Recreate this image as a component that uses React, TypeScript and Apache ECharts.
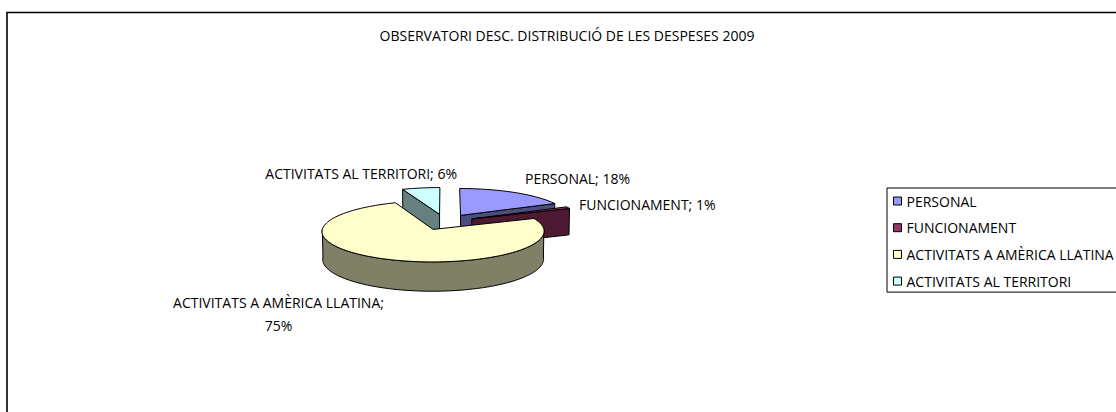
import React, { useEffect, useRef } from 'react';
import * as echarts from 'echarts';

// ---- data ----
const TITLE = 'OBSERVATORI DESC. DISTRIBUCIÓ DE LES DESPESES 2009';
const CATEGORIES = ['PERSONAL', 'FUNCIONAMENT', 'ACTIVITATS A AMÈRICA LLATINA', 'ACTIVITATS AL TERRITORI'];
const VALUES = [18, 1, 75, 6];

// ---- styles / layout ----
const COLORS = ['#9999FF', '#993366', '#FFFFCC', '#CCFFFF'];
const SIDE_COLORS = ['#4D4D80', '#4D1933', '#808066', '#668080'];
const FONT_FAMILY = '"Open Sans", sans-serif';
const FONT_SIZE = 14;

const CX = 445;
const CY = 222;
const RADIUS = 109;
const SIN_T = 0.27;
const COS_T = Math.sqrt(1 - SIN_T * SIN_T);
const PERSP = 15;
const DEPTH = 0.26;
const EXPLODE = 0.27;

const LABEL_LAYOUT: { x: number; y: number; align: string; vAlign: string; wrap?: boolean }[] = [
  { x: 525, y: 178, align: 'left', vAlign: 'middle' },
  { x: 579, y: 204, align: 'left', vAlign: 'middle' },
  { x: 278.5, y: 290.5, align: 'center', vAlign: 'top', wrap: true },
  { x: 457, y: 173, align: 'right', vAlign: 'middle' },
];

const TOTAL = VALUES.reduce((a, b) => a + b, 0);
const STARTS = VALUES.map((_, i) => (VALUES.slice(0, i).reduce((a, b) => a + b, 0) / TOTAL) * 360);
const rad = (d: number) => (d * Math.PI) / 180;

function proj(X: number, Z: number, Y: number): number[] {
  const depth = Z * COS_T + Y * SIN_T;
  const k = PERSP / (PERSP - depth);
  return [CX + RADIUS * X * k, CY + RADIUS * (Z * SIN_T - Y * COS_T) * k];
}

function sliceOffset(i: number, v: number) {
  const a0 = STARTS[i];
  const a1 = a0 + (v / TOTAL) * 360;
  const mid = rad((a0 + a1) / 2);
  return { a0, a1, ox: EXPLODE * Math.sin(mid), oz: -EXPLODE * Math.cos(mid) };
}

function makeRender(i: number) {
  return (params: any, api: any) => {
    const v = api.value(0);
    const { a0, a1, ox, oz } = sliceOffset(i, v);
    const P = (deg: number, Y: number) => proj(ox + Math.sin(rad(deg)), oz - Math.cos(rad(deg)), Y);
    const apexT = proj(ox, oz, 0);
    const apexB = proj(ox, oz, -DEPTH);
    const arc = (a: number, b: number, Y: number) => {
      const n = Math.max(2, Math.ceil(Math.abs(b - a) / 2));
      const pts: number[][] = [];
      for (let j = 0; j <= n; j++) pts.push(P(a + ((b - a) * j) / n, Y));
      return pts;
    };
    const poly = (points: number[][], fill: string) => ({
      type: 'polygon',
      shape: { points },
      style: { fill, stroke: '#000', lineWidth: 1, lineJoin: 'round' },
    });
    const children: any[] = [];
    if (Math.sin(rad(a0)) < -1e-6) children.push(poly([apexT, P(a0, 0), P(a0, -DEPTH), apexB], SIDE_COLORS[i]));
    if (Math.sin(rad(a1)) > 1e-6) children.push(poly([apexT, P(a1, 0), P(a1, -DEPTH), apexB], SIDE_COLORS[i]));
    const w0 = Math.max(a0, 90);
    const w1 = Math.min(a1, 270);
    if (w1 > w0) children.push(poly([...arc(w0, w1, 0), ...arc(w1, w0, -DEPTH)], SIDE_COLORS[i]));
    children.push(poly([apexT, ...arc(a0, a1, 0)], COLORS[i]));

    const L = LABEL_LAYOUT[i];
    const pct = Math.round((v / TOTAL) * 100);
    const text = L.wrap ? `${CATEGORIES[i]};\n${pct}%` : `${CATEGORIES[i]}; ${pct}%`;
    children.push({
      type: 'text',
      x: L.x,
      y: L.y,
      style: {
        text,
        fill: '#000',
        fontFamily: FONT_FAMILY,
        fontSize: FONT_SIZE,
        lineHeight: 23,
        align: L.align,
        textAlign: L.align,
        verticalAlign: L.vAlign,
        textVerticalAlign: L.vAlign,
      },
    });
    return { type: 'group', children };
  };
}

// paint order: back slices first
const DEPTHS = VALUES.map((v, i) => sliceOffset(i, v).oz);
const RANK = DEPTHS.map((d) => DEPTHS.filter((o) => o < d).length);

export default function App() {
  const ref = useRef<HTMLDivElement>(null);
  useEffect(() => {
    document.body.style.margin = '0';
    const chart = echarts.init(ref.current!, null, { renderer: 'svg', width: 1116, height: 412 });
    chart.setOption({
      animation: false,
      backgroundColor: '#ffffff',
      color: COLORS,
      graphic: [
        {
          type: 'rect',
          z: 0,
          shape: { x: 7, y: 12.5, width: 1400, height: 700 },
          style: { fill: 'none', stroke: '#000', lineWidth: 1.6 },
        },
        {
          type: 'text',
          z: 1,
          x: 567,
          y: 35,
          style: {
            text: TITLE,
            fill: '#000',
            fontFamily: FONT_FAMILY,
            fontSize: FONT_SIZE,
            align: 'center',
            textAlign: 'center',
            verticalAlign: 'middle',
            textVerticalAlign: 'middle',
          },
        },
      ],
      legend: {
        orient: 'vertical',
        left: 887,
        top: 188,
        data: CATEGORIES,
        icon: 'rect',
        itemWidth: 8,
        itemHeight: 8,
        itemGap: 10.7,
        padding: [5, 6, 3, 6],
        borderColor: '#000',
        borderWidth: 1,
        borderRadius: 0,
        selectedMode: false,
        itemStyle: { borderColor: '#000', borderWidth: 1 },
        textStyle: { fontFamily: FONT_FAMILY, fontSize: FONT_SIZE, color: '#000', lineHeight: 16 },
      },
      series: CATEGORIES.map((name, i) => ({
        type: 'custom',
        name,
        coordinateSystem: 'none',
        renderItem: makeRender(i),
        data: [[VALUES[i]]],
        z: 2 + RANK[i],
        silent: true,
        itemStyle: { color: COLORS[i] },
      })),
    });
    return () => chart.dispose();
  }, []);
  return (
    <div
      ref={ref}
      style={{ position: 'absolute', left: 0, top: 0, width: 1116, height: 412, background: '#fff' }}
    />
  );
}
